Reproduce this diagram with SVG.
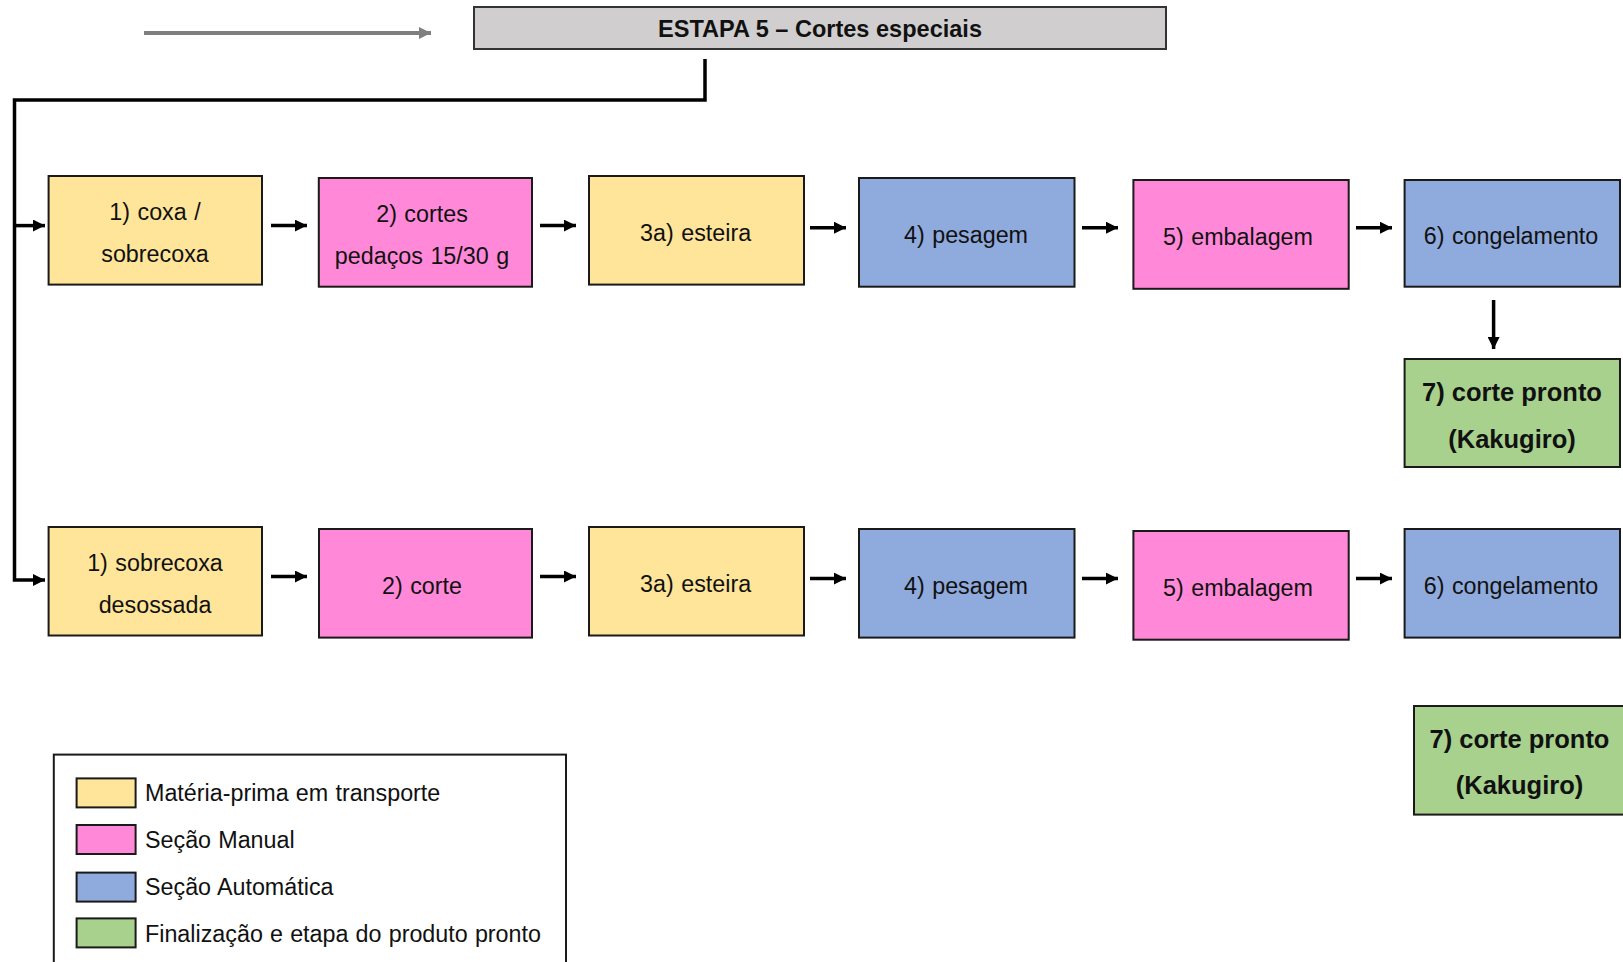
<svg xmlns="http://www.w3.org/2000/svg" width="1623" height="962" viewBox="0 0 1623 962">
<style>
.box{stroke:#1a1a1a;stroke-width:2}
.y{fill:#FFE599}.p{fill:#FF89D8}.b{fill:#8FAADC}.g{fill:#A9D18E}
.t{font-family:"Liberation Sans",Arial,sans-serif;font-size:23.3px;word-spacing:1px;fill:#111;text-anchor:middle;dominant-baseline:central}
.tb{font-family:"Liberation Sans",Arial,sans-serif;font-size:25.5px;font-weight:bold;fill:#111;text-anchor:middle;dominant-baseline:central}
.lt{font-family:"Liberation Sans",Arial,sans-serif;font-size:23.3px;word-spacing:0.7px;fill:#111;dominant-baseline:central}
.c{stroke:#000;stroke-width:3.5;fill:none}
</style>
<defs>
<marker id="ah" markerUnits="userSpaceOnUse" markerWidth="12" markerHeight="12" refX="12" refY="6" orient="auto"><path d="M0,0 L12,6 L0,12 z" fill="#000"/></marker>
<marker id="ahg" markerUnits="userSpaceOnUse" markerWidth="12" markerHeight="12" refX="12" refY="6" orient="auto"><path d="M0,0 L12,6 L0,12 z" fill="#7f7f7f"/></marker>
</defs>
<rect width="1623" height="962" fill="#fff"/>

<g id="header">
<rect x="474" y="7" width="692" height="42" fill="#D0CECE" stroke="#333" stroke-width="2"/>
<text x="820" y="28" font-family="'Liberation Sans',Arial,sans-serif" font-size="24" font-weight="bold" fill="#111" text-anchor="middle" dominant-baseline="central" textLength="324" lengthAdjust="spacingAndGlyphs">ESTAPA 5 – Cortes especiais</text>
</g>

<g id="connectors">
<line x1="144" y1="33" x2="431" y2="33" stroke="#7f7f7f" stroke-width="4" marker-end="url(#ahg)"/>
<polyline class="c" points="705,59 705,100 14.5,100 14.5,580 45,580" marker-end="url(#ah)"/>
<line class="c" x1="14.5" y1="225.6" x2="45" y2="225.6" marker-end="url(#ah)"/>
<line class="c" x1="271" y1="225.6" x2="307" y2="225.6" marker-end="url(#ah)"/>
<line class="c" x1="540" y1="225.6" x2="576" y2="225.6" marker-end="url(#ah)"/>
<line class="c" x1="810" y1="227.7" x2="846" y2="227.7" marker-end="url(#ah)"/>
<line class="c" x1="1082" y1="227.7" x2="1118" y2="227.7" marker-end="url(#ah)"/>
<line class="c" x1="1356" y1="227.7" x2="1392" y2="227.7" marker-end="url(#ah)"/>
<line class="c" x1="1493.6" y1="300" x2="1493.6" y2="349" marker-end="url(#ah)"/>
<line class="c" x1="271" y1="576.5" x2="307" y2="576.5" marker-end="url(#ah)"/>
<line class="c" x1="540" y1="576.5" x2="576" y2="576.5" marker-end="url(#ah)"/>
<line class="c" x1="810" y1="578.6" x2="846" y2="578.6" marker-end="url(#ah)"/>
<line class="c" x1="1082" y1="578.6" x2="1118" y2="578.6" marker-end="url(#ah)"/>
<line class="c" x1="1356" y1="578.6" x2="1392" y2="578.6" marker-end="url(#ah)"/>
</g>

<g id="r1n1"><rect class="box y" x="48.6" y="176" width="213.4" height="108.6"/><text class="t" x="155" y="212">1) coxa /</text><text class="t" x="155" y="253.6">sobrecoxa</text></g>
<g id="r1n2"><rect class="box p" x="318.8" y="178" width="213.2" height="108.7"/><text class="t" x="422" y="214">2) cortes</text><text class="t" x="422" y="255.7">pedaços 15/30 g</text></g>
<g id="r1n3"><rect class="box y" x="589" y="176" width="215" height="108.6"/><text class="t" x="695.6" y="233">3a) esteira</text></g>
<g id="r1n4"><rect class="box b" x="859" y="178" width="215.5" height="108.7"/><text class="t" x="966" y="235">4) pesagem</text></g>
<g id="r1n5"><rect class="box p" x="1133.4" y="180" width="215.3" height="108.8"/><text class="t" x="1238" y="237">5) embalagem</text></g>
<g id="r1n6"><rect class="box b" x="1404.6" y="180" width="215.4" height="106.7"/><text class="t" x="1511" y="236">6) congelamento</text></g>
<g id="r1n7"><rect class="box g" x="1404.6" y="359" width="215.4" height="108"/><text class="tb" x="1512" y="392">7) corte pronto</text><text class="tb" x="1512" y="439">(Kakugiro)</text></g>

<g id="r2n1"><rect class="box y" x="48.6" y="527" width="213.4" height="108.5"/><text class="t" x="155" y="563">1) sobrecoxa</text><text class="t" x="155" y="604.5">desossada</text></g>
<g id="r2n2"><rect class="box p" x="319" y="529" width="213" height="108.6"/><text class="t" x="422" y="586">2) corte</text></g>
<g id="r2n3"><rect class="box y" x="589" y="527" width="215" height="108.5"/><text class="t" x="695.6" y="584">3a) esteira</text></g>
<g id="r2n4"><rect class="box b" x="859" y="529" width="215.5" height="108.6"/><text class="t" x="966" y="586">4) pesagem</text></g>
<g id="r2n5"><rect class="box p" x="1133.4" y="531" width="215.3" height="108.7"/><text class="t" x="1238" y="588">5) embalagem</text></g>
<g id="r2n6"><rect class="box b" x="1404.6" y="529" width="215.4" height="108.6"/><text class="t" x="1511" y="586">6) congelamento</text></g>
<g id="r2n7"><rect class="box g" x="1414" y="706" width="212" height="108.6"/><text class="tb" x="1519.5" y="739">7) corte pronto</text><text class="tb" x="1519.5" y="784.6">(Kakugiro)</text></g>

<g id="legend">
<rect x="53.8" y="754.6" width="512.2" height="220" fill="#fff" stroke="#1a1a1a" stroke-width="2"/>
<rect class="box y" x="76.6" y="778.4" width="59" height="29"/>
<text class="lt" x="145" y="793">Matéria-prima em transporte</text>
<rect class="box p" x="76.6" y="825" width="59" height="29"/>
<text class="lt" x="145" y="839.5">Seção Manual</text>
<rect class="box b" x="76.6" y="872.6" width="59" height="29"/>
<text class="lt" x="145" y="887">Seção Automática</text>
<rect class="box g" x="76.6" y="918.4" width="59" height="29"/>
<text class="lt" x="145" y="933.7">Finalização e etapa do produto pronto</text>
</g>
</svg>
